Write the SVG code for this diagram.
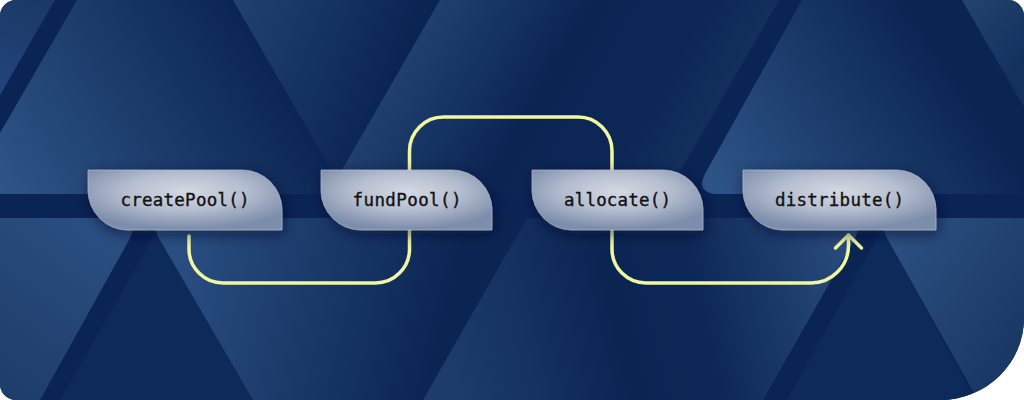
<svg xmlns="http://www.w3.org/2000/svg" width="1024" height="400" viewBox="0 0 1024 400">
  <defs>
    <style>
      .node { fill: url(#nodeFill); stroke: #c3cbda; stroke-opacity: 0.55; stroke-width: 1; filter: url(#shadow); }
      .lbl { font-family: "DejaVu Sans Mono", "Liberation Mono", monospace; font-size: 17.5px; fill: #121212; stroke: #121212; stroke-width: 0.35; text-anchor: middle; }
      .flow { fill: none; stroke: #f1f6a2; stroke-width: 3.5; stroke-linecap: round; stroke-linejoin: round; }
    </style>
    <clipPath id="card">
      <path d="M16,0 H1008 A16,16 0 0 1 1024,16 V318 A84,82 0 0 1 940,400 H16 A16,16 0 0 1 0,384 V16 A16,16 0 0 1 16,0 Z"/>
    </clipPath>
    <linearGradient id="gU0" gradientUnits="userSpaceOnUse" x1="0" y1="90" x2="50" y2="0">
      <stop offset="0" stop-color="#22447a"/><stop offset="1" stop-color="#1a3866"/>
    </linearGradient>
    <linearGradient id="gU1" gradientUnits="userSpaceOnUse" x1="0" y1="194" x2="260" y2="40">
      <stop offset="0" stop-color="#2d5586"/><stop offset="1" stop-color="#0b2553"/>
    </linearGradient>
    <linearGradient id="gU2" gradientUnits="userSpaceOnUse" x1="240" y1="0" x2="400" y2="60">
      <stop offset="0" stop-color="#1f416f"/><stop offset="1" stop-color="#0b2553"/>
    </linearGradient>
    <linearGradient id="gU3" gradientUnits="userSpaceOnUse" x1="384" y1="97" x2="638" y2="244">
      <stop offset="0" stop-color="#1f406e"/><stop offset="0.45" stop-color="#0b2553"/><stop offset="0.8" stop-color="#0c2756"/><stop offset="1" stop-color="#13305c"/>
    </linearGradient>
    <linearGradient id="gU4" gradientUnits="userSpaceOnUse" x1="705" y1="194" x2="930" y2="40">
      <stop offset="0" stop-color="#2e5688"/><stop offset="1" stop-color="#0b2553"/>
    </linearGradient>
    <linearGradient id="gU5" gradientUnits="userSpaceOnUse" x1="962" y1="0" x2="1024" y2="60">
      <stop offset="0" stop-color="#22446f"/><stop offset="1" stop-color="#14315e"/>
    </linearGradient>
    <linearGradient id="gL1" gradientUnits="userSpaceOnUse" x1="130" y1="225" x2="0" y2="400">
      <stop offset="0" stop-color="#2b5082"/><stop offset="1" stop-color="#1d3c6a"/>
    </linearGradient>
    <linearGradient id="gL2" gradientUnits="userSpaceOnUse" x1="150" y1="230" x2="450" y2="300">
      <stop offset="0" stop-color="#2c5385"/><stop offset="1" stop-color="#0b2553"/>
    </linearGradient>
    <linearGradient id="gL3" gradientUnits="userSpaceOnUse" x1="440" y1="330" x2="860" y2="230">
      <stop offset="0" stop-color="#1d3c6a"/><stop offset="0.4" stop-color="#0b2553"/><stop offset="0.6" stop-color="#0d2856"/><stop offset="1" stop-color="#2b4f80"/>
    </linearGradient>
    <linearGradient id="gL4" gradientUnits="userSpaceOnUse" x1="880" y1="230" x2="1024" y2="330">
      <stop offset="0" stop-color="#2c5284"/><stop offset="1" stop-color="#1a3865"/>
    </linearGradient>
    <radialGradient id="nodeFill" cx="0.5" cy="0.36" r="0.62">
      <stop offset="0" stop-color="#d3d8e3"/>
      <stop offset="0.5" stop-color="#b5becf"/>
      <stop offset="1" stop-color="#7d8dab"/>
    </radialGradient>
    <filter id="shadow" x="-20%" y="-40%" width="140%" height="190%">
      <feDropShadow dx="2" dy="4" stdDeviation="7" flood-color="#030f2a" flood-opacity="0.6"/>
    </filter>
    <marker id="chev" viewBox="-16 -16 32 32" markerWidth="32" markerHeight="32" markerUnits="userSpaceOnUse" refX="0" refY="0" orient="auto" overflow="visible">
      <path d="M-13,-13 L0,0 L-13,13" fill="none" stroke="#f1f6a2" stroke-width="3.5" stroke-linecap="round" stroke-linejoin="round"/>
    </marker>
  </defs>

  <g id="background" clip-path="url(#card)">
    <rect width="1024" height="400" fill="#0a2454"/>
    <path d="M0,0 H55 L0,95 Z" fill="url(#gU0)"/>
    <path d="M77,0 H233 L345,194 H0 V133 Z" fill="url(#gU1)"/>
    <path d="M233,0 H440 L337,180 Z" fill="url(#gU2)"/>
    <path d="M440,0 H779 L667,194 H328 Z" fill="url(#gU3)"/>
    <path d="M802,0 H962 L1024,107 V194 H719 Q694,194 706,172 Z" fill="url(#gU4)"/>
    <path d="M962,0 H1024 V107 Z" fill="url(#gU5)"/>
    <path d="M156,232 L60,400 H253 Z" fill="#0d2a5b"/>
    <path d="M882,229 L787,400 H975 Z" fill="#0d2a5b"/>
    <path d="M0,218 H118 Q141,218 129,240 L40,400 H0 Z" fill="url(#gL1)"/>
    <path d="M172,218 H527 L423,400 H253 L160,240 Q147.5,218 172,218 Z" fill="url(#gL2)"/>
    <path d="M527,218 H841 Q866,218 854,240 L763,400 H423 Z" fill="url(#gL3)"/>
    <path d="M901,218 H1024 V400 H978 L888,240 Q876,218 901,218 Z" fill="url(#gL4)"/>
  </g>

  <g id="connectors">
    <path class="flow" marker-end="url(#chev)" d="M189,236 V249 A34,34 0 0 0 223,283 H375.5 A34,34 0 0 0 409.5,249 V151 A34,34 0 0 1 443.5,117 H578 A34,34 0 0 1 612,151 V249 A34,34 0 0 0 646,283 H811 A37.5,37.5 0 0 0 848.5,245.5 V235"/>
  </g>

  <g id="node-createPool">
    <path class="node" d="M88,170 H242 A40,40 0 0 1 282,210 V230 H128 A40,40 0 0 1 88,190 Z"/>
    <text class="lbl" x="185" y="206" textLength="129" lengthAdjust="spacing">createPool()</text>
  </g>
  <g id="node-fundPool">
    <path class="node" d="M321,170 H452 A40,40 0 0 1 492,210 V230 H361 A40,40 0 0 1 321,190 Z"/>
    <text class="lbl" x="407" y="206" textLength="109" lengthAdjust="spacing">fundPool()</text>
  </g>
  <g id="node-allocate">
    <path class="node" d="M532,170 H663 A40,40 0 0 1 703,210 V230 H572 A40,40 0 0 1 532,190 Z"/>
    <text class="lbl" x="617.5" y="206" textLength="107" lengthAdjust="spacing">allocate()</text>
  </g>
  <g id="node-distribute">
    <path class="node" d="M743,170 H896 A40,40 0 0 1 936,210 V230 H783 A40,40 0 0 1 743,190 Z"/>
    <text class="lbl" x="839.5" y="206" textLength="129" lengthAdjust="spacing">distribute()</text>
  </g>
</svg>
